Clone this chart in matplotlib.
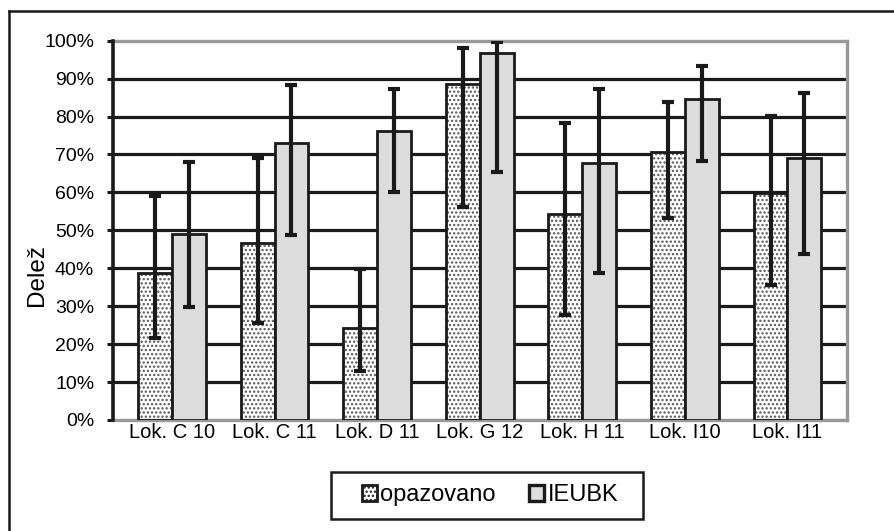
import numpy as np
import matplotlib.pyplot as plt
from matplotlib.patches import Rectangle
from matplotlib.lines import Line2D

plt.rcParams['font.family'] = ['Liberation Sans', 'DejaVu Sans']
plt.rcParams['hatch.linewidth'] = 1.1

# data (percent)
lokacije = ['Lok. C 10', 'Lok. C 11', 'Lok. D 11', 'Lok. G 12', 'Lok. H 11', 'Lok. I10', 'Lok. I11']
opazovano = [38.8, 46.6, 24.2, 88.6, 54.2, 70.7, 59.8]
opaz_zg = [59.1, 69.2, 39.7, 98.2, 78.4, 83.9, 80.1]
opaz_sp = [21.5, 25.5, 12.9, 56.2, 27.7, 53.3, 35.6]
ieubk = [49.0, 72.9, 76.2, 96.8, 67.7, 84.6, 69.0]
ieubk_zg = [68.1, 88.3, 87.2, 99.7, 87.2, 93.4, 86.3]
ieubk_sp = [29.9, 48.8, 60.2, 65.3, 38.7, 68.3, 43.7]
yticks = list(range(0, 101, 10))

W, H = 894, 531
fig = plt.figure(figsize=(W/100, H/100), dpi=100)
ax = fig.add_axes([112.7/W, 1-420/H, (846.7-112.7)/W, (420-40.7)/H])

x = np.arange(len(lokacije))
w = 0.33
crna = '#1a1a1a'
siva = '#999999'

# gridlines (10..90 black)
for v in yticks[1:-1]:
    ax.axhline(v, color=crna, lw=2.3, zorder=1)

ax.bar(x - w/2, opazovano, w, color='white', edgecolor='#555555', hatch='....', lw=0, zorder=2)
ax.bar(x - w/2, opazovano, w, fill=False, edgecolor=crna, lw=2.0, zorder=3)
ax.bar(x + w/2, ieubk, w, color='#dcdcdc', edgecolor=crna, lw=2.0, zorder=3)

o = np.array(opazovano)
i = np.array(ieubk)
ax.errorbar(x - w/2, o, yerr=[o - np.array(opaz_sp), np.array(opaz_zg) - o], fmt='none',
            ecolor=crna, elinewidth=3.0, capsize=4, capthick=3.0, zorder=4)
ax.errorbar(x + w/2, i, yerr=[i - np.array(ieubk_sp), np.array(ieubk_zg) - i], fmt='none',
            ecolor=crna, elinewidth=3.0, capsize=4, capthick=3.0, zorder=4)

ax.set_xlim(-0.577, 6.577)
ax.set_ylim(0, 100)
ax.set_yticks(yticks)
ax.set_yticklabels([f'{v}%' for v in yticks])
ax.set_xticks(x)
ax.set_xticklabels(lokacije)
ax.tick_params(axis='y', length=4.3, width=2.2, color=crna, pad=9, labelsize=14)
ax.tick_params(axis='x', length=0, pad=2, labelsize=14.5)

for s in ['top', 'right', 'bottom']:
    ax.spines[s].set_color(siva)
    ax.spines[s].set_linewidth(2.4)
ax.spines['left'].set_color(crna)
ax.spines['left'].set_linewidth(2.6)
ax.spines['left'].set_zorder(5)

fig.text(37/W, 1-275/H, 'Delež', rotation=90, ha='center', va='center', fontsize=17.5)

# outer border (only top and left are visible in the picture)
fig.add_artist(Line2D([9/W, 1], [1-11/H, 1-11/H], transform=fig.transFigure, color=crna, lw=1.8))
fig.add_artist(Line2D([9/W, 9/W], [0, 1-11/H], transform=fig.transFigure, color=crna, lw=1.8))

# legend box
fig.add_artist(Rectangle((330.7/W, 1-519/H), (643-330.7)/W, (519-471.7)/H, transform=fig.transFigure,
                         fill=False, edgecolor=crna, lw=1.8))
handles = [Rectangle((0, 0), 1, 1, facecolor='white', edgecolor=crna, hatch='....', lw=2.0),
           Rectangle((0, 0), 1, 1, facecolor='#dcdcdc', edgecolor=crna, lw=2.4)]
fig.legend(handles, ['opazovano', 'IEUBK'], ncol=2, frameon=False, loc='center',
           bbox_to_anchor=(490/W, 1-495/H), handlelength=0.65, handleheight=0.65,
           handletextpad=0.15, columnspacing=1.4, fontsize=17)

fig.savefig('out.png', dpi=100)
